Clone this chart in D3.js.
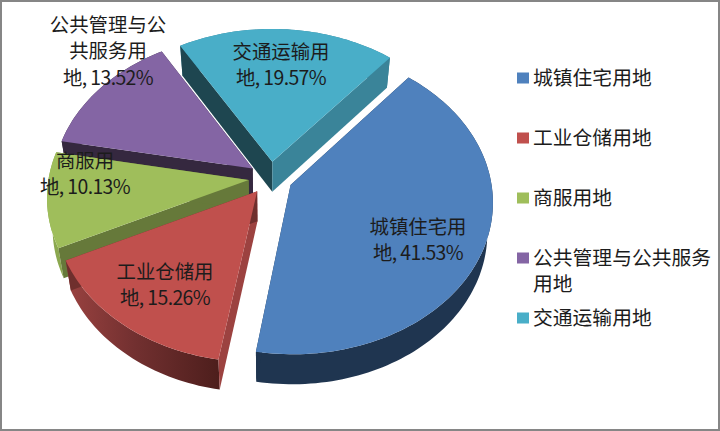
<!DOCTYPE html>
<html><head><meta charset="utf-8">
<script src="https://cdn.jsdelivr.net/npm/d3@7/dist/d3.min.js"></script>
<style>html,body{margin:0;padding:0;background:#fff}svg{display:block}text{font-family:"Noto Sans CJK SC","Noto Sans",sans-serif;fill:#1c1c1c}</style>
</head><body><svg id="c" width="720" height="431"></svg>
<script>
const categories=["城镇住宅用地","工业仓储用地","商服用地","公共管理与公共服务用地","交通运输用地"];
const shares=[41.53,15.26,10.13,13.52,19.57];
const shareLabels=["41.53%","15.26%","10.13%","13.52%","19.57%"];
const legendLines=[["城镇住宅用地"],["工业仓储用地"],["商服用地"],["公共管理与公共服务","用地"],["交通运输用地"]];
const labelHead=[["城镇住宅用"],["工业仓储用"],["商服用"],["公共管理与公","共服务用"],["交通运输用"]];
const labelTail="地, ";
const topColors=["#4f81bd","#c0504d","#9fbe5b","#8465a4","#49aec8"];
const wallColors=["#1f3550","url(#redWall)","#8ba84f","#35283f","#3a8499"];
const startCut=["#1f3550","#9c4240","#66793a","#35283f","#1e4650"];
const endCut=["#1f3550","#6f2f2d","#66793a","#35283f","#3a8499"];
const paintOrder=[4,3,0,2,1];

const W=720,H=431;
const pieCentre={x:270.5,y:178},radiusX=200,radiusY=150,persp=0.105,explode=0.11,depth=30,startDeg=40,bottomScale=0.975;
const labelPos=[[418,227],[165,272],[85,161],[108,25],[281,52]];
const lineGap=26.5;

const svg=d3.select("#c");
const defs=svg.append("defs");
const g=defs.append("linearGradient").attr("id","redWall").attr("x1",0).attr("x2",1).attr("y1",0).attr("y2",0);
g.append("stop").attr("offset","0%").attr("stop-color","#9a4240");
g.append("stop").attr("offset","45%").attr("stop-color","#723030");
g.append("stop").attr("offset","100%").attr("stop-color","#4d1e1c");

svg.append("rect").attr("x",1).attr("y",1).attr("width",W-2).attr("height",H-2).attr("fill","#fff").attr("stroke","#868686").attr("stroke-width",2);

const arcs=d3.pie().sort(null).startAngle(startDeg*Math.PI/180).endAngle((startDeg+360)*Math.PI/180)(shares);
const xS=d3.scaleLinear().domain([-1,1]).range([pieCentre.x-radiusX,pieCentre.x+radiusX]);
const yS=d3.scaleLinear().domain([-1,1]).range([pieCentre.y+radiusY,pieCentre.y-radiusY]);
function project(u,v,down){
  const f=1/(1+persp*v);
  return [xS(u*f*(down?bottomScale:1)),yS(v*f)+(down?depth:0)];
}
function slicePts(a,down){
  const m=(a.startAngle+a.endAngle)/2,ox=explode*Math.sin(m),oy=explode*Math.cos(m);
  const n=Math.ceil((a.endAngle-a.startAngle)*40);
  const rim=d3.range(n+1).map(i=>{const t=a.startAngle+(a.endAngle-a.startAngle)*i/n;
    return project(ox+Math.sin(t),oy+Math.cos(t),down)});
  return {tip:project(ox,oy,down),rim};
}
const line=d3.line();
paintOrder.forEach(i=>{
  const a=arcs[i],t=slicePts(a,false),b=slicePts(a,true),G=svg.append("g");
  const q=p=>line(p)+"Z";
  G.append("path").attr("d",q(t.rim.concat(b.rim.slice().reverse()))).attr("fill",wallColors[i]);
  G.append("path").attr("d",q([t.tip,t.rim[0],b.rim[0],b.tip])).attr("fill",startCut[i]);
  const L=t.rim.length-1;
  G.append("path").attr("d",q([t.tip,t.rim[L],b.rim[L],b.tip])).attr("fill",endCut[i]);
  G.append("path").attr("d",q([t.tip].concat(t.rim))).attr("fill",topColors[i]);
});
const lab=svg.append("g").attr("font-size",19.4).attr("text-anchor","middle");
categories.forEach((c,i)=>{
  labelHead[i].forEach((s,j)=>lab.append("text").attr("x",labelPos[i][0]).attr("y",labelPos[i][1]+j*lineGap).attr("dy","0.35em").text(s));
  lab.append("text").attr("x",labelPos[i][0]).attr("y",labelPos[i][1]+labelHead[i].length*lineGap).attr("dy","0.35em")
    .attr("letter-spacing",-0.6).text(labelTail+shareLabels[i]);
});
const ly=d3.scalePoint().domain(categories).range([78,318]);
const leg=svg.append("g").attr("font-size",19.8);
categories.forEach((c,i)=>{
  leg.append("rect").attr("x",517).attr("y",ly(c)-5.5).attr("width",12).attr("height",11).attr("fill",topColors[i]);
  legendLines[i].forEach((s,j)=>leg.append("text").attr("x",533).attr("y",ly(c)+j*26.5).attr("dy","0.35em").text(s));
});
</script></body></html>
